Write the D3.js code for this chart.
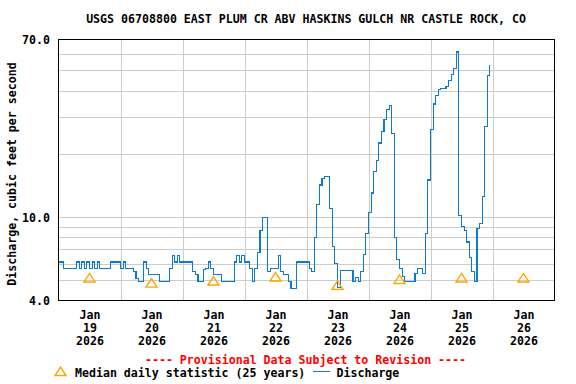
<!DOCTYPE html>
<html>
<head>
<meta charset="utf-8">
<script src="https://cdn.jsdelivr.net/npm/d3@7"></script>
<style>
  body { margin: 0; background: #ffffff; }
  text { font-family: "DejaVu Sans Mono", monospace; font-weight: bold; font-size: 11.6px; fill: #000; }
</style>
</head>
<body>
<div class="chart"></div>
<script>
var title = "USGS 06708800 EAST PLUM CR ABV HASKINS GULCH NR CASTLE ROCK, CO";
var yLabel = "Discharge, cubic feet per second";
var yTicks = [4, 10, 70];
var yGrid = [5, 6, 7, 8, 9, 10, 20, 30, 40, 50, 60];
var dayLabels = [19, 20, 21, 22, 23, 24, 25, 26];
var medianDaily = [5.12, 4.84, 4.95, 5.18, 4.72, 5.04, 5.12, 5.12];

// hourly discharge, cfs
var jan19 = [6.1, 6.1, 5.7, 5.7, 5.7, 5.7, 5.7, 6.1, 5.7, 6.1, 5.7, 6.1, 5.7, 6.1, 5.7, 6.1, 5.7, 5.7, 5.7, 5.7, 6.1, 6.1, 6.1, 6.1];
var jan20 = [5.7, 6.1, 5.7, 5.7, 5.7, 5.5, 5.1, 4.93, 4.93, 6.1, 5.7, 5.32, 5.32, 5.32, 5.32, 4.93, 4.93, 4.93, 4.93, 5.7, 6.56, 6.1, 6.56, 6.1];
var jan21 = [6.1, 6.1, 6.1, 6.1, 5.5, 5.3, 4.93, 4.93, 5.6, 5.7, 6.1, 5.7, 5.32, 5.32, 5.32, 4.93, 4.93, 4.93, 4.93, 4.93, 6.1, 6.56, 6.1, 6.56];
var jan22 = [6.1, 6.1, 5.7, 4.93, 5.7, 6.8, 8.6, 9.9, 9.9, 5.5, 5.7, 5.7, 5.7, 6.56, 5.5, 5.32, 5.32, 4.93, 4.55, 4.55, 6.1, 6.1, 6.1, 6.1];
var jan23 = [6.1, 5.7, 5.5, 8.0, 11.5, 14.2, 15.2, 15.6, 15.6, 11.0, 7.2, 6.0, 4.6, 5.56, 5.56, 5.56, 5.56, 5.56, 4.93, 5.17, 4.93, 5.5, 6.6, 8.3];
var jan24 = [10.5, 13, 16.5, 18.6, 22.5, 25.5, 29, 32.5, 34, 25, 8, 6.3, 5.7, 5.2, 4.93, 4.93, 4.93, 4.93, 5.36, 5.68, 5.68, 5.36, 8.3, 15];
var jan25 = [26, 34.5, 38, 40.5, 40.9, 40.9, 42, 44.5, 47.5, 51, 61, 10.2, 9.0, 8.6, 7.6, 6.4, 5.5, 4.92, 8.8, 9.3, 12.5, 27, 47, 53];

var width = 576;
var height = 384;
var plotL = 58, plotR = 554, plotT = 39, plotB = 300;

var svg = d3
  .select(".chart")
  .append("svg")
  .attr("width", width)
  .attr("height", height);

var start = new Date(2026, 0, 19);
var end = new Date(2026, 0, 27);

var x = d3.scaleTime().domain([start, end]).range([plotL + 0.5, plotR + 0.5]);
var y = d3.scaleLog().domain([4, 70]).range([plotB + 0.5, plotT + 0.5]);

var discharge = jan19.concat(jan20, jan21, jan22, jan23, jan24, jan25).map(function (v, i) {
  return { t: new Date(2026, 0, 19, i), v: v };
});

function drawGrid() {
  var grid = svg.append("g").attr("class", "grid");
  grid
    .append("g")
    .attr("transform", "translate(" + plotL + ",0)")
    .call(d3.axisLeft(y).tickValues(yGrid).tickSize(-(plotR - plotL)).tickFormat(""))
    .call(function (g) { g.select(".domain").remove(); });

  var midnights = d3.timeDay.range(new Date(2026, 0, 20), end);
  grid
    .append("g")
    .attr("transform", "translate(0," + plotB + ")")
    .call(d3.axisBottom(x).tickValues(midnights).tickSize(-(plotB - plotT)).tickFormat(""))
    .call(function (g) { g.select(".domain").remove(); });

  grid.selectAll("line")
    .attr("stroke", "#cccccc")
    .attr("shape-rendering", "crispEdges");
}

function drawAxes() {
  var yAxis = svg.append("g")
    .attr("transform", "translate(" + plotL + ",0)")
    .call(d3.axisLeft(y).tickValues(yTicks).tickSize(0).tickPadding(8).tickFormat(d3.format(".1f")));
  yAxis.select(".domain").remove();
  yAxis.selectAll("text").attr("font-size", null).attr("font-family", null).attr("dy", "0.35em");

  var noons = dayLabels.map(function (d) { return new Date(2026, 0, d, 12); });
  var xAxis = svg.append("g")
    .attr("transform", "translate(0," + plotB + ")")
    .call(d3.axisBottom(x).tickValues(noons).tickSize(0).tickFormat(""));
  xAxis.select(".domain").remove();
  xAxis.selectAll(".tick text").each(function (d) {
    var t = d3.select(this).attr("y", 0).attr("dy", null).attr("font-size", null).attr("font-family", null);
    ["Jan", d.getDate(), "2026"].forEach(function (s, i) {
      t.append("tspan").attr("x", 0).attr("y", 18.5 + i * 13).text(s);
    });
  });

  svg.append("rect")
    .attr("x", plotL + 0.5)
    .attr("y", plotT + 0.5)
    .attr("width", plotR - plotL)
    .attr("height", plotB - plotT)
    .attr("fill", "none")
    .attr("stroke", "#000")
    .attr("shape-rendering", "crispEdges");
}

function triangle(g) {
  g.attr("d", "M0,-4.5L5.5,4L-5.5,4Z")
    .attr("fill", "none")
    .attr("stroke", "#ffa500")
    .attr("stroke-width", 1.4);
}

function drawData() {
  var line = d3.line()
    .x(function (d) { return x(d.t); })
    .y(function (d) { return y(d.v); })
    .curve(d3.curveStepAfter);

  svg.append("path")
    .datum(discharge)
    .attr("d", line)
    .attr("fill", "none")
    .attr("stroke", "#0b7ad0")
    .attr("stroke-width", 1.1)
    .attr("shape-rendering", "crispEdges");

  svg.append("g")
    .selectAll("path")
    .data(medianDaily)
    .enter()
    .append("path")
    .attr("transform", function (d, i) {
      return "translate(" + x(new Date(2026, 0, dayLabels[i], 12)) + "," + y(d) + ")";
    })
    .call(triangle);
}

function drawText() {
  svg.append("text")
    .attr("x", 306)
    .attr("y", 23)
    .attr("text-anchor", "middle")
    .text(title);

  svg.append("text")
    .attr("transform", "translate(15.5,174) rotate(-90)")
    .attr("text-anchor", "middle")
    .text(yLabel);

  svg.append("text")
    .attr("x", 305.5)
    .attr("y", 363.5)
    .attr("text-anchor", "middle")
    .style("fill", "#ff0000")
    .text("---- Provisional Data Subject to Revision ----");

  var legend = svg.append("g");
  legend.append("path").attr("transform", "translate(60.5,371.5)").call(triangle);
  legend.append("text").attr("x", 75).attr("y", 376.5).text("Median daily statistic (25 years)");
  legend.append("line")
    .attr("x1", 313).attr("x2", 330)
    .attr("y1", 371.5).attr("y2", 371.5)
    .attr("stroke", "#0b7ad0");
  legend.append("text").attr("x", 336.5).attr("y", 376.5).text("Discharge");
}

drawGrid();
drawData();
drawAxes();
drawText();
</script>
</body>
</html>
